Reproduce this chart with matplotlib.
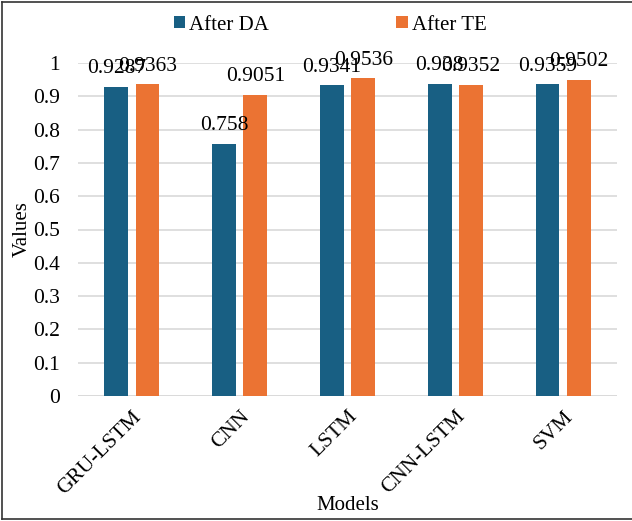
import numpy as np
import matplotlib.pyplot as plt
from matplotlib.lines import Line2D

plt.rcParams['font.family'] = ['Liberation Serif', 'DejaVu Serif']

models = ['GRU-LSTM', 'CNN', 'LSTM', 'CNN-LSTM', 'SVM']
after_da = [0.9287, 0.758, 0.9341, 0.938, 0.9359]
after_te = [0.9363, 0.9051, 0.9536, 0.9352, 0.9502]

blue = '#185f83'
orange = '#eb7333'

fig = plt.figure(figsize=(6.32, 5.21), dpi=100)
ax = fig.add_axes([78 / 632, 1 - 396 / 521, (617 - 78) / 632, (396 - 63) / 521])

x = np.arange(len(models))
w = 0.22
off = 0.145
b1 = ax.bar(x - off, after_da, w, color=blue, label='After DA', zorder=3)
b2 = ax.bar(x + off, after_te, w, color=orange, label='After TE', zorder=3)

for bars, vals in ((b1, after_da), (b2, after_te)):
    for r, v in zip(bars, vals):
        ax.annotate(f'{v:g}', (r.get_x() + r.get_width() / 2, v),
                    xytext=(0, 6), textcoords='offset points',
                    ha='center', va='bottom', fontsize=15.5, clip_on=False)

ax.set_xlim(-0.5, len(models) - 0.5)
ax.set_ylim(0, 1)
ax.set_yticks(np.arange(0, 1.01, 0.1))
ax.set_yticklabels(['0'] + [f'{t:.1f}' for t in np.arange(0.1, 0.95, 0.1)] + ['1'])
ax.set_xticks(x)
ax.set_xticklabels(models, rotation=45, ha='right', rotation_mode='anchor')
ax.tick_params(axis='both', length=0, labelsize=15.5)
ax.tick_params(axis='y', pad=13)
ax.tick_params(axis='x', pad=8)
ax.yaxis.grid(True, color='#d9d9d9', linewidth=1.2, zorder=0)
for s in ax.spines.values():
    s.set_visible(False)
ax.axhline(0, color='#d9d9d9', linewidth=1.2, zorder=1)

ax.set_ylabel('Values', fontsize=15)
ax.yaxis.set_label_coords((22 - 78) / 539, 0.5)
ax.yaxis.label.set_va('center')
ax.set_xlabel('Models', fontsize=15)
ax.xaxis.set_label_coords(0.5, -(505 - 396) / 333)
ax.xaxis.label.set_va('center')

fig.legend(handles=[b1, b2], loc='center', bbox_to_anchor=(330 / 632, 1 - 25 / 521),
           ncol=2, frameon=False, fontsize=15, handlelength=0.55, handleheight=0.55,
           handletextpad=0.2, columnspacing=6.1)

# figure border on top, left and bottom
for xs, ys in (([2 / 632, 1], [1 - 2 / 521] * 2),
               ([2 / 632] * 2, [2 / 521, 1 - 2 / 521]),
               ([2 / 632, 1], [2 / 521] * 2)):
    fig.add_artist(Line2D(xs, ys, color='#333333', linewidth=1.2, transform=fig.transFigure))

fig.savefig('out.png', dpi=100)
